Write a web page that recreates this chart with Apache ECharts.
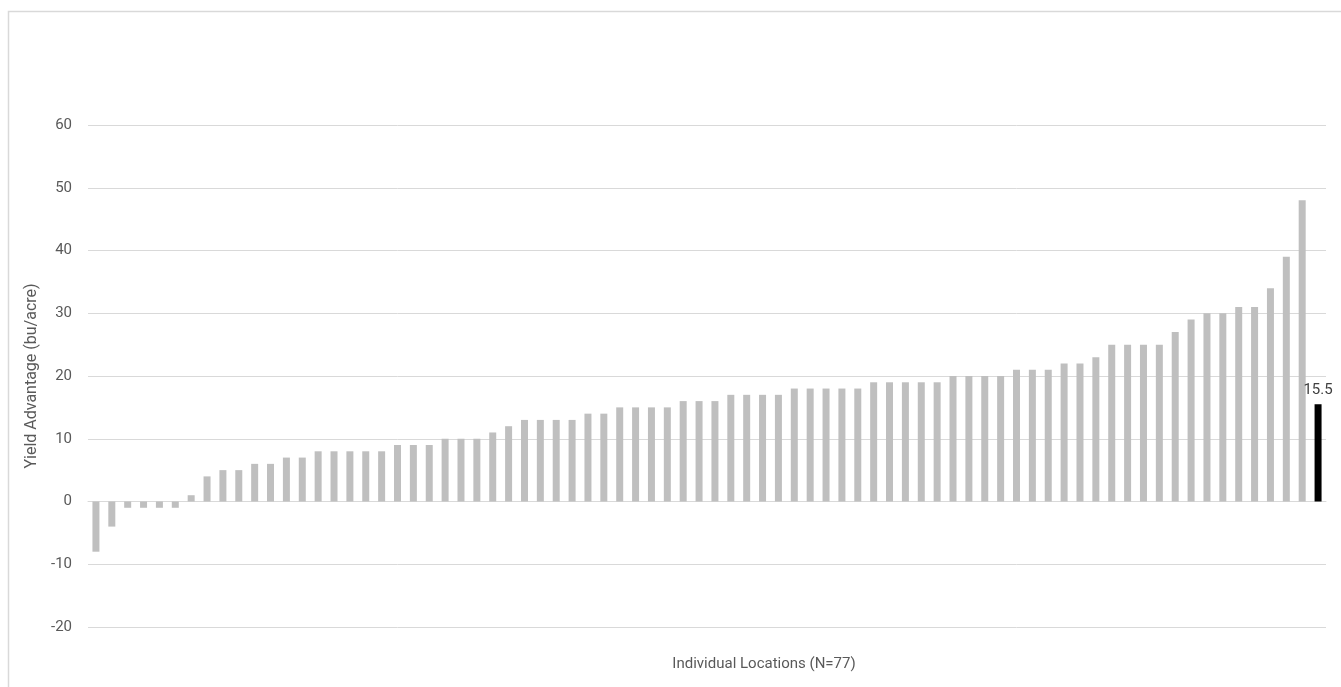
<!DOCTYPE html>
<html>
<head>
<meta charset="utf-8">
<script src="https://cdn.jsdelivr.net/npm/echarts@6/dist/echarts.min.js"></script>
<style>
html,body{margin:0;padding:0;background:#fff;}
#chart{width:1341px;height:687px;}
</style>
</head>
<body>
<div id="chart"></div>
<script>
const locationValues = [
  -8, -4, -1, -1, -1, -1, 1, 4, 5, 5,
  6, 6, 7, 7, 8, 8, 8, 8, 8, 9,
  9, 9, 10, 10, 10, 11, 12, 13, 13, 13,
  13, 14, 14, 15, 15, 15, 15, 16, 16, 16,
  17, 17, 17, 17, 18, 18, 18, 18, 18, 19,
  19, 19, 19, 19, 20, 20, 20, 20, 21, 21,
  21, 22, 22, 23, 25, 25, 25, 25, 27, 29,
  30, 30, 31, 31, 34, 39, 48
];
const averageValue = 15.5;
const categories = locationValues.map((v, i) => 'Location ' + (i + 1)).concat(['Average']);
const yTicks = [-20, -10, 0, 10, 20, 30, 40, 50, 60];
const yAxisTitle = 'Yield Advantage (bu/acre)';
const xAxisTitle = 'Individual Locations (N=77)';

const seriesData = locationValues.map(v => ({ value: v, itemStyle: { color: '#bfbfbf' } }))
  .concat([{ value: averageValue, itemStyle: { color: '#000000' },
             label: { show: true, position: 'top', distance: 6, color: '#404040', fontSize: 15, fontFamily: 'Roboto' } }]);

const chart = echarts.init(document.getElementById('chart'), null, { renderer: 'canvas' });
chart.setOption({
  animation: false,
  backgroundColor: '#ffffff',
  grid: { left: 88, right: 15, top: 125, bottom: 60, containLabel: false },
  graphic: [
    { type: 'rect', silent: true, z: -1,
      shape: { x: 8.5, y: 11.5, width: 1500, height: 900 },
      style: { fill: 'none', stroke: '#d9d9d9', lineWidth: 1.5 } },
    { type: 'text', silent: true,
      x: 764, y: 664,
      style: { text: xAxisTitle, textAlign: 'center', textVerticalAlign: 'middle',
               fill: '#595959', fontSize: 15, fontFamily: 'Roboto' } }
  ],
  xAxis: {
    type: 'category',
    data: categories,
    axisLine: { show: true, onZero: true, lineStyle: { color: '#d9d9d9', width: 1 } },
    axisTick: { show: false },
    axisLabel: { show: false },
    splitLine: { show: false }
  },
  yAxis: {
    type: 'value',
    min: yTicks[0],
    max: yTicks[yTicks.length - 1],
    interval: 10,
    name: yAxisTitle,
    nameLocation: 'middle',
    nameRotate: 90,
    nameGap: 43,
    nameTextStyle: { color: '#595959', fontSize: 16, fontFamily: 'Roboto' },
    axisLine: { show: false },
    axisTick: { show: false },
    axisLabel: { color: '#595959', fontSize: 15, fontFamily: 'Roboto', margin: 16 },
    splitLine: { show: true, lineStyle: { color: '#d9d9d9', width: 1 } }
  },
  series: [{
    type: 'bar',
    data: seriesData,
    barWidth: 7
  }]
});
</script>
</body>
</html>
